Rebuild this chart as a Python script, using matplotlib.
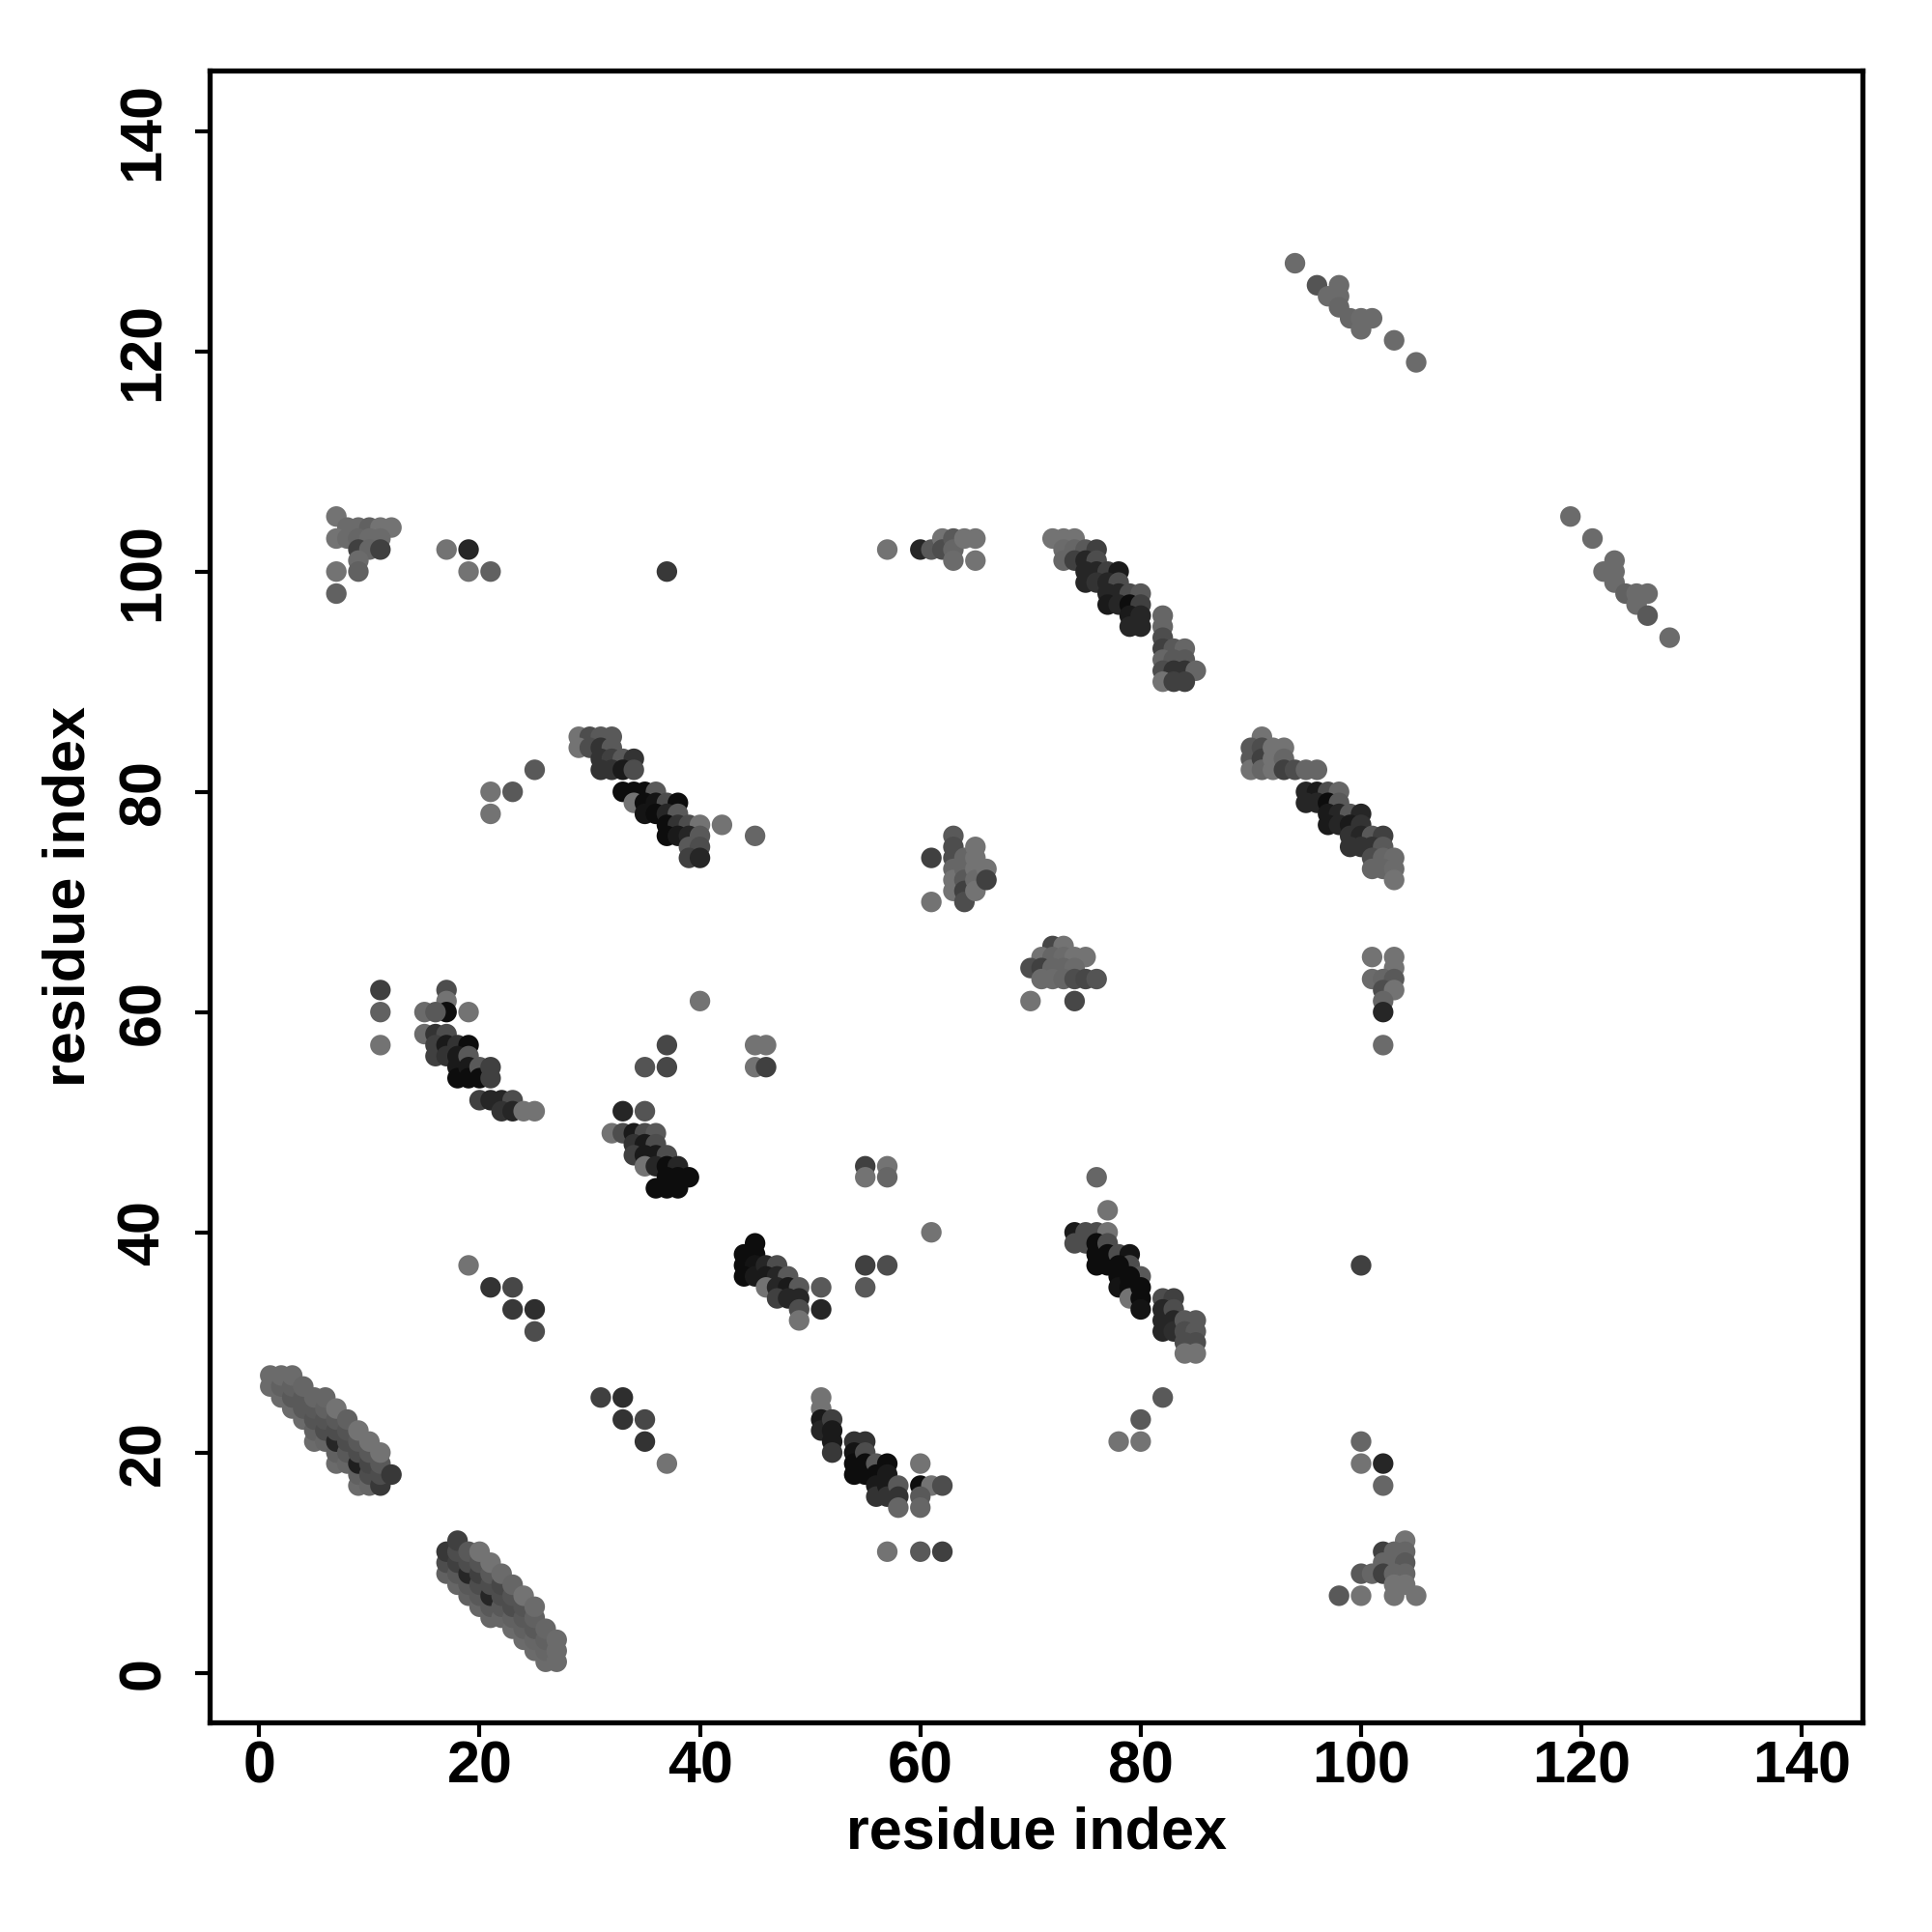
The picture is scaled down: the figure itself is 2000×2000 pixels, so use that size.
import matplotlib
matplotlib.use("Agg")
import matplotlib.pyplot as plt

# contact map: (residue i, residue j, grey level of the dot)
band_1_27 = [
    (1, 26, .42), (1, 27, .42),
    (2, 25, .42), (2, 26, .38), (2, 27, .42),
    (3, 24, .42), (3, 25, .35), (3, 26, .38), (3, 27, .42),
    (4, 23, .42), (4, 24, .35), (4, 25, .35), (4, 26, .4),
    (5, 21, .42), (5, 22, .38), (5, 23, .33), (5, 24, .35), (5, 25, .4),
    (6, 21, .4), (6, 22, .3), (6, 23, .33), (6, 24, .38), (6, 25, .4),
    (7, 19, .42), (7, 20, .38), (7, 21, .15), (7, 22, .3), (7, 23, .35), (7, 24, .45),
    (8, 19, .4), (8, 20, .35), (8, 21, .3), (8, 22, .33), (8, 23, .38),
    (9, 17, .42), (9, 18, .38), (9, 19, .12), (9, 20, .3), (9, 21, .35), (9, 22, .45),
    (10, 17, .4), (10, 18, .3), (10, 19, .28), (10, 20, .35), (10, 21, .45),
    (11, 17, .22), (11, 18, .3), (11, 19, .35), (11, 20, .45),
    (12, 18, .22),
]

band_17_1 = [
    (17, 9, .38), (17, 10, .3), (17, 11, .22),
    (18, 8, .4), (18, 9, .35), (18, 10, .25), (18, 11, .3), (18, 12, .25),
    (19, 7, .38), (19, 8, .35), (19, 9, .15), (19, 10, .3), (19, 11, .35),
    (20, 6, .4), (20, 7, .35), (20, 8, .3), (20, 9, .25), (20, 10, .33), (20, 11, .45),
    (21, 5, .4), (21, 6, .35), (21, 7, .15), (21, 8, .3), (21, 9, .35), (21, 10, .45),
    (22, 5, .4), (22, 6, .35), (22, 7, .3), (22, 8, .28), (22, 9, .42),
    (23, 4, .42), (23, 5, .38), (23, 6, .3), (23, 7, .33), (23, 8, .4),
    (24, 3, .42), (24, 4, .38), (24, 5, .35), (24, 6, .33), (24, 7, .45),
    (25, 2, .42), (25, 3, .4), (25, 4, .35), (25, 5, .38), (25, 6, .42),
    (26, 1, .42), (26, 2, .4), (26, 3, .38), (26, 4, .4),
    (27, 1, .42), (27, 2, .42), (27, 3, .42),
]

low_scatter = [
    (31, 25, .25), (33, 25, .18), (33, 23, .2), (35, 23, .28), (35, 21, .2), (37, 19, .45),
    (19, 37, .45), (21, 35, .2), (23, 35, .28), (23, 33, .22), (25, 33, .18), (25, 31, .3),
    (80, 23, .35), (82, 25, .35), (78, 21, .45), (80, 21, .45), (100, 37, .25),
    (55, 46, .25), (57, 46, .45), (55, 45, .45), (57, 45, .4), (61, 40, .45),
    (55, 37, .25), (57, 37, .3), (55, 35, .35),
]

band_51_17 = [
    (51, 25, .45), (51, 24, .45), (51, 23, .1), (51, 22, .15),
    (52, 23, .25), (52, 22, .1), (52, 21, .1), (52, 20, .22),
    (54, 21, .2), (55, 21, .2), (54, 20, .08), (54, 19, .05), (54, 18, .05),
    (55, 20, .3), (55, 19, .05), (55, 18, .05),
    (56, 19, .35), (56, 18, .05), (56, 17, .1), (56, 16, .2),
    (57, 19, .05), (57, 18, .1), (57, 17, .1), (57, 16, .2),
    (58, 17, .35), (58, 16, .2), (58, 15, .4),
    (60, 19, .45), (60, 17, .05), (61, 17, .45), (62, 17, .3), (60, 16, .35), (60, 15, .4),
    (57, 11, .45), (60, 11, .35), (62, 11, .25),
]

band_74_40 = [
    (76, 45, .4), (77, 42, .45),
    (74, 40, .1), (74, 39, .3), (75, 40, .3), (76, 40, .3), (77, 40, .45), (75, 39, .3),
    (76, 39, .05), (76, 38, .05), (76, 37, .05), (77, 39, .3), (77, 38, .05), (77, 37, .05),
    (78, 38, .3), (79, 38, .08), (79, 37, .3), (78, 37, .05), (78, 36, .05), (78, 35, .08),
    (80, 36, .35), (79, 36, .05), (79, 35, .05), (79, 34, .45), (80, 35, .05), (80, 34, .05),
    (80, 33, .08),
    (82, 34, .3), (83, 34, .25), (82, 33, .15), (82, 32, .15), (82, 31, .15), (83, 33, .3),
    (83, 32, .15), (83, 31, .18), (84, 32, .35), (85, 32, .35), (84, 31, .3), (85, 31, .35),
    (84, 30, .3), (85, 30, .3), (84, 29, .45), (85, 29, .45),
]

band_100_7 = [
    (100, 21, .4), (100, 19, .45), (102, 19, .15), (102, 17, .4),
    (104, 12, .45), (102, 11, .25), (103, 11, .4), (104, 11, .4),
    (102, 10, .4), (103, 10, .4), (104, 10, .35),
    (100, 9, .35), (101, 9, .4), (102, 9, .25), (103, 9, .4), (104, 9, .4),
    (103, 8, .45), (104, 8, .45),
    (98, 7, .35), (100, 7, .45), (103, 7, .45), (105, 7, .45),
]

band_44_39 = [
    (45, 39, .05), (44, 38, .05), (45, 38, .05), (44, 37, .05), (45, 37, .08),
    (44, 36, .05), (45, 36, .1), (46, 37, .15), (47, 37, .3), (46, 36, .1), (47, 36, .15),
    (48, 36, .35), (46, 35, .45), (47, 35, .15), (48, 35, .1), (49, 35, .35),
    (47, 34, .25), (48, 34, .15), (49, 34, .15), (49, 33, .3), (49, 32, .45),
    (51, 35, .35), (51, 33, .15),
]

band_15_60 = [
    (11, 62, .25), (11, 60, .38), (11, 57, .45),
    (17, 62, .3), (17, 61, .45), (17, 60, .05), (15, 60, .42), (16, 60, .35), (19, 60, .45),
    (15, 58, .42), (16, 58, .2), (17, 58, .3), (16, 57, .25), (16, 56, .25),
    (17, 57, .1), (17, 56, .2), (18, 57, .2), (19, 57, .05), (18, 56, .1), (18, 55, .1),
    (19, 56, .35), (18, 54, .05), (19, 55, .1), (19, 54, .05), (20, 55, .35), (20, 54, .05),
    (21, 55, .25), (21, 54, .25),
    (20, 52, .25), (21, 52, .15), (22, 52, .15), (23, 52, .3),
    (22, 51, .2), (23, 51, .15), (24, 51, .45), (25, 51, .45),
]

band_32_49 = [
    (40, 61, .45), (37, 57, .28), (35, 55, .33), (37, 55, .28),
    (45, 57, .45), (46, 57, .45), (45, 55, .45), (46, 55, .25),
    (33, 51, .15), (35, 51, .33),
    (32, 49, .45), (33, 49, .3), (34, 49, .1), (35, 49, .3), (36, 49, .35),
    (34, 48, .2), (35, 48, .1), (36, 48, .3),
    (34, 47, .25), (35, 47, .1), (36, 47, .1), (37, 47, .3),
    (35, 46, .45), (36, 46, .15), (37, 46, .05), (38, 46, .15),
    (37, 45, .05), (38, 45, .05), (39, 45, .05),
    (36, 44, .05), (37, 44, .05), (38, 44, .05),
]

band_29_85 = [
    (25, 82, .35), (21, 80, .45), (23, 80, .35), (21, 78, .45), (42, 77, .45), (45, 76, .4),
    (29, 85, .45), (30, 85, .3), (31, 85, .35), (32, 85, .35),
    (29, 84, .45), (30, 84, .3), (31, 84, .2), (32, 84, .35),
    (31, 83, .2), (32, 83, .25), (33, 83, .35), (34, 83, .2),
    (31, 82, .2), (32, 82, .2), (33, 82, .1), (34, 82, .3),
    (33, 80, .05), (34, 80, .05), (35, 80, .05), (36, 80, .35),
    (34, 79, .45), (35, 79, .05), (36, 79, .08), (37, 79, .3), (38, 79, .05),
    (35, 78, .08), (36, 78, .05), (37, 78, .15), (38, 78, .35),
    (37, 77, .05), (38, 77, .2), (39, 77, .3), (40, 77, .45),
    (37, 76, .05), (38, 76, .1), (39, 76, .15), (40, 76, .35),
    (39, 75, .35), (40, 75, .3),
    (39, 74, .25), (40, 74, .15),
]

patch_63_73 = [
    (61, 74, .25), (61, 70, .45),
    (63, 76, .35), (63, 75, .3), (63, 74, .3), (63, 73, .4), (63, 72, .45), (63, 71, .45),
    (64, 74, .4), (64, 73, .4), (64, 72, .35), (64, 71, .25), (64, 70, .3),
    (65, 75, .45), (65, 74, .45), (65, 73, .45), (65, 72, .42), (65, 71, .45),
    (66, 73, .45), (66, 72, .25),
]

patch_73_64 = [
    (72, 66, .28), (73, 66, .45),
    (71, 65, .45), (72, 65, .4), (73, 65, .42), (74, 65, .45), (75, 65, .45),
    (70, 64, .3), (71, 64, .25), (72, 64, .4), (73, 64, .4), (74, 64, .42),
    (71, 63, .42), (72, 63, .42), (73, 63, .4), (74, 63, .3), (75, 63, .28), (76, 63, .33),
    (70, 61, .45), (74, 61, .28),
]

band_90_84 = [
    (91, 85, .45), (90, 84, .35), (90, 83, .35), (90, 82, .45),
    (91, 84, .3), (91, 83, .25), (91, 82, .4),
    (92, 84, .45), (92, 83, .45), (92, 82, .45),
    (93, 84, .45), (93, 83, .4), (93, 82, .25),
    (94, 82, .3), (95, 82, .4), (96, 82, .4),
    (95, 80, .15), (96, 80, .1), (97, 80, .3), (98, 80, .4),
    (95, 79, .15), (96, 79, .15), (97, 79, .05), (98, 79, .35),
    (97, 78, .1), (98, 78, .15), (99, 78, .35), (100, 78, .15),
    (97, 77, .1), (98, 77, .15), (99, 77, .1), (100, 77, .2),
    (99, 76, .2), (100, 76, .15), (101, 76, .35), (102, 76, .25),
    (99, 75, .2), (100, 75, .2), (101, 75, .2), (102, 75, .35),
    (101, 74, .3), (102, 74, .4), (103, 74, .42),
    (101, 73, .4), (102, 73, .4), (103, 73, .42), (103, 72, .45),
    (101, 65, .45), (103, 65, .45), (103, 64, .45),
    (101, 63, .42), (102, 63, .4), (103, 63, .35),
    (102, 62, .3), (103, 62, .45), (102, 61, .4), (102, 60, .15), (102, 57, .42),
]

band_73_102 = [
    (57, 102, .45), (60, 102, .15), (61, 102, .35), (62, 103, .45), (62, 102, .3),
    (63, 103, .35), (63, 102, .4), (63, 101, .42), (64, 103, .45), (65, 103, .45), (65, 101, .45),
    (72, 103, .45), (73, 103, .45), (74, 103, .45),
    (73, 102, .42), (74, 102, .4), (75, 102, .35), (76, 102, .25),
    (73, 101, .4), (74, 101, .25), (75, 101, .15), (76, 101, .3),
    (75, 100, .15), (76, 100, .15), (77, 100, .25), (78, 100, .1),
    (75, 99, .15), (76, 99, .2), (77, 99, .15), (78, 99, .3),
    (77, 98, .15), (78, 98, .15), (79, 98, .3), (80, 98, .35),
    (77, 97, .1), (78, 97, .15), (79, 97, .05), (80, 97, .25),
    (79, 96, .1), (80, 96, .15), (82, 96, .4),
    (79, 95, .15), (80, 95, .15), (82, 95, .4),
    (82, 94, .3),
    (82, 93, .25), (83, 93, .35), (84, 93, .4),
    (82, 92, .4), (83, 92, .35), (84, 92, .35),
    (82, 91, .3), (83, 91, .2), (84, 91, .2), (85, 91, .4),
    (82, 90, .45), (83, 90, .25), (84, 90, .25),
]

patch_9_103 = [
    (7, 105, .45), (8, 104, .42), (9, 104, .42), (10, 104, .38), (11, 104, .45), (12, 104, .45),
    (7, 103, .45), (8, 103, .42), (9, 103, .4), (10, 103, .42), (11, 103, .42),
    (9, 102, .25), (10, 102, .4), (11, 102, .25), (9, 101, .42),
    (7, 100, .45), (9, 100, .38), (7, 98, .38),
    (17, 102, .45), (19, 102, .15), (19, 100, .45), (21, 100, .38), (37, 100, .22),
]

band_94_128 = [
    (94, 128, .42), (96, 126, .33), (98, 126, .42), (97, 125, .42), (98, 125, .42),
    (98, 124, .4), (99, 123, .4), (100, 123, .42), (101, 123, .42), (100, 122, .42),
    (103, 121, .42), (105, 119, .42),
]

band_119_105 = [
    (119, 105, .42), (121, 103, .42), (123, 101, .42), (122, 100, .42), (123, 100, .42),
    (123, 99, .42), (124, 98, .38), (125, 98, .42), (126, 98, .42), (125, 97, .42),
    (126, 96, .35), (128, 94, .42),
]

clusters = [band_1_27, band_17_1, low_scatter, band_51_17, band_74_40, band_100_7,
            band_44_39, band_15_60, band_32_49, band_29_85, patch_63_73, patch_73_64,
            band_90_84, band_73_102, patch_9_103, band_94_128, band_119_105]

tick_vals = [0, 20, 40, 60, 80, 100, 120, 140]

plt.rcParams['font.family'] = ['Liberation Sans', 'DejaVu Sans']
plt.rcParams['font.weight'] = 'bold'

fig = plt.figure(figsize=(20, 20), dpi=100)
ax = fig.add_axes([0.1085, 0.1085, 0.8555, 0.855])

for pts in clusters:
    xs = [p[0] for p in pts]
    ys = [p[1] for p in pts]
    cols = [str(p[2]) for p in pts]
    ax.scatter(xs, ys, s=235, c=cols, edgecolors='none')

ax.set_xlim(-4.5, 145.5)
ax.set_ylim(-4.5, 145.5)
ax.set_xticks(tick_vals)
ax.set_yticks(tick_vals)
ax.set_xticklabels([str(t) for t in tick_vals], fontsize=44, fontweight='bold')
ax.set_yticklabels([str(t) for t in tick_vals], fontsize=44, fontweight='bold',
                   rotation=90, va='center')
ax.tick_params(axis='both', direction='out', length=11, width=3)
ax.tick_params(axis='x', pad=2)
ax.tick_params(axis='y', pad=17)
for sp in ax.spines.values():
    sp.set_linewidth(3.8)

ax.set_xlabel('residue index', fontsize=44, fontweight='bold', labelpad=8)
ax.set_ylabel('residue index', fontsize=44, fontweight='bold', labelpad=15)

fig.savefig('out.png', dpi=100)
